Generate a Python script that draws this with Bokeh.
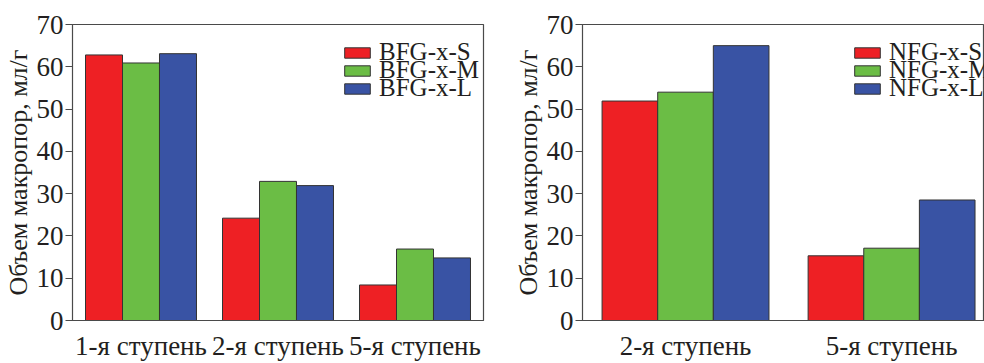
from bokeh.plotting import figure
from bokeh.layouts import row
from bokeh.models import FixedTicker, Range1d, Legend, LegendItem, ColumnDataSource
from bokeh.transform import dodge
from bokeh.embed import file_html
from bokeh.resources import INLINE

# ---- data ----
left_stages = ["1-я ступень", "2-я ступень", "5-я ступень"]
bfg_s = [62.8, 24.2, 8.4]
bfg_m = [60.9, 32.9, 16.9]
bfg_l = [63.1, 31.9, 14.8]
left_series = ["BFG-x-S", "BFG-x-M", "BFG-x-L"]

right_stages = ["2-я ступень", "5-я ступень"]
nfg_s = [51.9, 15.3]
nfg_m = [54.0, 17.1]
nfg_l = [65.0, 28.5]
right_series = ["NFG-x-S", "NFG-x-M", "NFG-x-L"]

y_ticks = [0, 10, 20, 30, 40, 50, 60, 70]
y_label = "Объем макропор, мл/г"

COLORS = ["#EE2024", "#6BBD45", "#3953A4"]
FONT = "Liberation Serif"
AX = "#4a4a4a"
TXT = "#231f20"


def make_panel(stages, series_vals, series_names, width, left_border, right_border, x_end):
    n = len(stages)
    pos = [i + 0.5 for i in range(n)]
    src = ColumnDataSource(dict(x=pos, s=series_vals[0], m=series_vals[1], l=series_vals[2]))
    p = figure(width=width, height=363, output_backend="svg", toolbar_location=None,
               x_range=Range1d(0, x_end), y_range=Range1d(0, 70),
               min_border_left=left_border, min_border_right=right_border,
               min_border_top=24, min_border_bottom=30)
    p.xgrid.visible = False
    p.ygrid.visible = False
    p.outline_line_color = AX
    p.outline_line_width = 1.2
    p.background_fill_color = "white"
    p.border_fill_color = "white"

    bw = 0.27
    renderers = []
    for k, col in enumerate(["s", "m", "l"]):
        r = p.vbar(x=dodge("x", (k - 1) * bw, range=p.x_range), top=col, width=bw, bottom=0,
                   source=src, fill_color=COLORS[k], line_color="#333333", line_width=1)
        renderers.append(r)

    # x axis
    xa = p.xaxis[0]
    xa.ticker = FixedTicker(ticks=pos)
    xa.major_label_overrides = {p_: s for p_, s in zip(pos, stages)}
    xa.major_tick_line_color = None
    xa.minor_tick_line_color = None
    xa.axis_line_color = AX
    xa.major_label_standoff = 4
    xa.major_label_text_font = FONT
    xa.major_label_text_font_size = "27px"
    xa.major_label_text_color = TXT

    # y axis
    ya = p.yaxis[0]
    ya.ticker = FixedTicker(ticks=y_ticks)
    ya.major_tick_out = 7
    ya.major_tick_in = 0
    ya.minor_tick_line_color = None
    ya.axis_line_color = AX
    ya.major_tick_line_color = AX
    ya.major_label_standoff = 2
    ya.major_label_text_font = FONT
    ya.major_label_text_font_size = "27px"
    ya.major_label_text_color = TXT
    ya.axis_label = y_label
    ya.axis_label_text_font = FONT
    ya.axis_label_text_font_size = "26px"
    ya.axis_label_text_font_style = "normal"
    ya.axis_label_text_color = TXT
    ya.axis_label_standoff = 1

    # one single-item legend per series, stacked 18 px apart
    for k, (nm, r) in enumerate(zip(series_names, renderers)):
        leg = Legend(items=[LegendItem(label=nm, renderers=[r])],
                     location=(269, 254 - 18 * k), padding=0, margin=0, spacing=0,
                     glyph_width=32, glyph_height=13, label_height=18, label_standoff=6,
                     label_text_font=FONT, label_text_font_size="25px", label_text_color=TXT,
                     border_line_color=None, background_fill_alpha=0)
        p.add_layout(leg, "center")
    return p


p1 = make_panel(left_stages, [bfg_s, bfg_m, bfg_l], left_series, 500, 71, 17, 3.0)
p2 = make_panel(right_stages, [nfg_s, nfg_m, nfg_l], right_series, 484, 82, 0, 1.951)

layout = row(p1, p2, spacing=0)
open("out.html", "w").write(file_html(layout, INLINE))
